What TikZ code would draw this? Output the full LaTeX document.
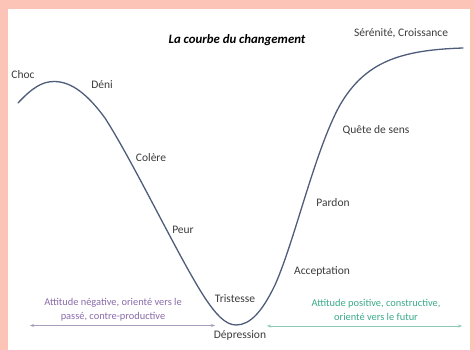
\documentclass[tikz,border=0pt]{standalone}
\usepackage{fontspec}
\setmainfont{Carlito}
\usetikzlibrary{arrows.meta}
\definecolor{bgpink}{RGB}{252,196,182}
\definecolor{curvecol}{RGB}{79,93,122}
\definecolor{txt}{RGB}{60,60,60}
\definecolor{negtxt}{RGB}{139,107,170}
\definecolor{negarr}{RGB}{168,156,189}
\definecolor{postxt}{RGB}{59,170,138}
\definecolor{posarr}{RGB}{140,203,178}
\tikzset{
  lbl/.style={font=\fontsize{11.5}{13}\selectfont, text=txt, inner sep=0pt},
  att/.style={font=\fontsize{10.4}{14}\selectfont, inner sep=0pt, align=center},
  attarrow/.style={{Stealth[length=4pt,width=3pt]}-{Stealth[length=4pt,width=3pt]}, line width=0.8pt}
}
\begin{document}
\begin{tikzpicture}[x=1pt,y=-1pt]
\useasboundingbox (0,0) rectangle (474,350);
\fill[bgpink] (0,0) rectangle (474,350);
\fill[white] (8,9) rectangle (470,350);
% curve
\draw[curvecol, line width=1.3pt, line join=round, line cap=round]
  (18,103) .. controls (32,88) and (42,81.5) .. (54,81.5)
  .. controls (72,81.5) and (88,95) .. (105,118)
  .. controls (135,165) and (180,260) .. (205,298)
  .. controls (215,313) and (225,325) .. (236,325)
  .. controls (250,325) and (262,312) .. (275,285)
  .. controls (295,240) and (315,150) .. (340,105)
  .. controls (365,62) and (400,50) .. (463,48);
% title
\node[font=\fontsize{12.8}{15}\selectfont\bfseries\itshape, text=black, inner sep=0pt] (title) at (237,40) {La courbe du changement};
% labels
\node[lbl] (choc) at (23,75) {Choc};
\node[lbl] (deni) at (102,85) {Déni};
\node[lbl] (colere) at (151,158) {Colère};
\node[lbl] (peur) at (183,230) {Peur};
\node[lbl] (tristesse) at (235,299) {Tristesse};
\node[lbl] (depression) at (240,335) {Dépression};
\node[lbl] (acceptation) at (322,271) {Acceptation};
\node[lbl] (pardon) at (333,203) {Pardon};
\node[lbl] (quete) at (376,130) {Quête de sens};
\node[lbl] (serenite) at (401,33) {Sérénité, Croissance};
% attitudes
\node[att, text=negtxt] (neg) at (113,310) {Attitude négative, orienté vers le\\passé, contre-productive};
\node[att, text=postxt] (pos) at (376,310) {Attitude positive, constructive,\\orienté vers le futur};
\coordinate (nl) at (30,325.5);
\coordinate (nr) at (215,325.5);
\coordinate (pl) at (267,326);
\coordinate (pr) at (462,326);
\draw[attarrow, negarr] (nl) -- (nr);
\draw[attarrow, posarr] (pl) -- (pr);
\end{tikzpicture}
\end{document}
